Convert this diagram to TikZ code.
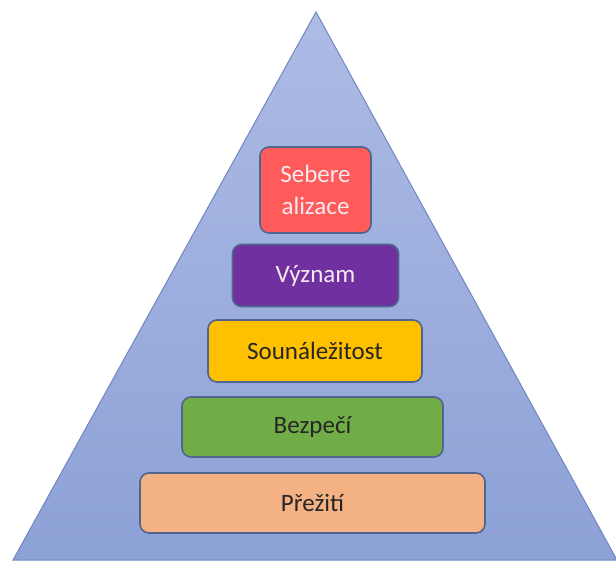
\documentclass[tikz,border=0pt]{standalone}
\usepackage{fontspec}
\setmainfont{Carlito}
\usetikzlibrary{shadings}
\definecolor{tritop}{HTML}{ADBCE5}
\definecolor{tribot}{HTML}{8CA1D6}
\definecolor{triedge}{HTML}{7386C2}
\definecolor{boxedge}{HTML}{50648F}
\definecolor{redf}{HTML}{FF5B5B}
\definecolor{purf}{HTML}{7030A0}
\definecolor{yelf}{HTML}{FFC000}
\definecolor{grnf}{HTML}{70AD47}
\definecolor{orgf}{HTML}{F4B183}
\definecolor{darktext}{HTML}{262626}
\definecolor{lighttext}{HTML}{F6EAF0}
\tikzset{
  level/.style={draw=boxedge, line width=1.6pt, rounded corners=9pt, inner sep=0pt, font=\fontsize{25}{32}\selectfont, align=center},
}
\begin{document}
\begin{tikzpicture}[x=1pt,y=-1pt]
\useasboundingbox (0,0) rectangle (616,560);
\coordinate (apex) at (316,12);
\coordinate (bl) at (13,560);
\coordinate (br) at (617,560);
\begin{scope}
\clip (0,0) rectangle (616,560);
\shade[top color=tritop, bottom color=tribot, draw=triedge, line width=1pt] (apex) -- (br) -- (bl) -- cycle;
\end{scope}
\node[level, fill=redf, text=lighttext, minimum width=111pt, minimum height=86pt] (s5) at (315.5,190) {Sebere\\alizace};
\node[level, fill=purf, text=lighttext, minimum width=166pt, minimum height=62pt] (s4) at (315.5,275.5) {Význam};
\node[level, fill=yelf, text=darktext, minimum width=214pt, minimum height=62pt] (s3) at (315,351) {Sounáležitost};
\node[level, fill=grnf, text=darktext, minimum width=261pt, minimum height=60pt] (s2) at (312.5,427) {Bezpečí};
\node[level, fill=orgf, text=darktext, minimum width=345pt, minimum height=60pt] (s1) at (312.5,503) {Přežití};
\end{tikzpicture}
\end{document}
